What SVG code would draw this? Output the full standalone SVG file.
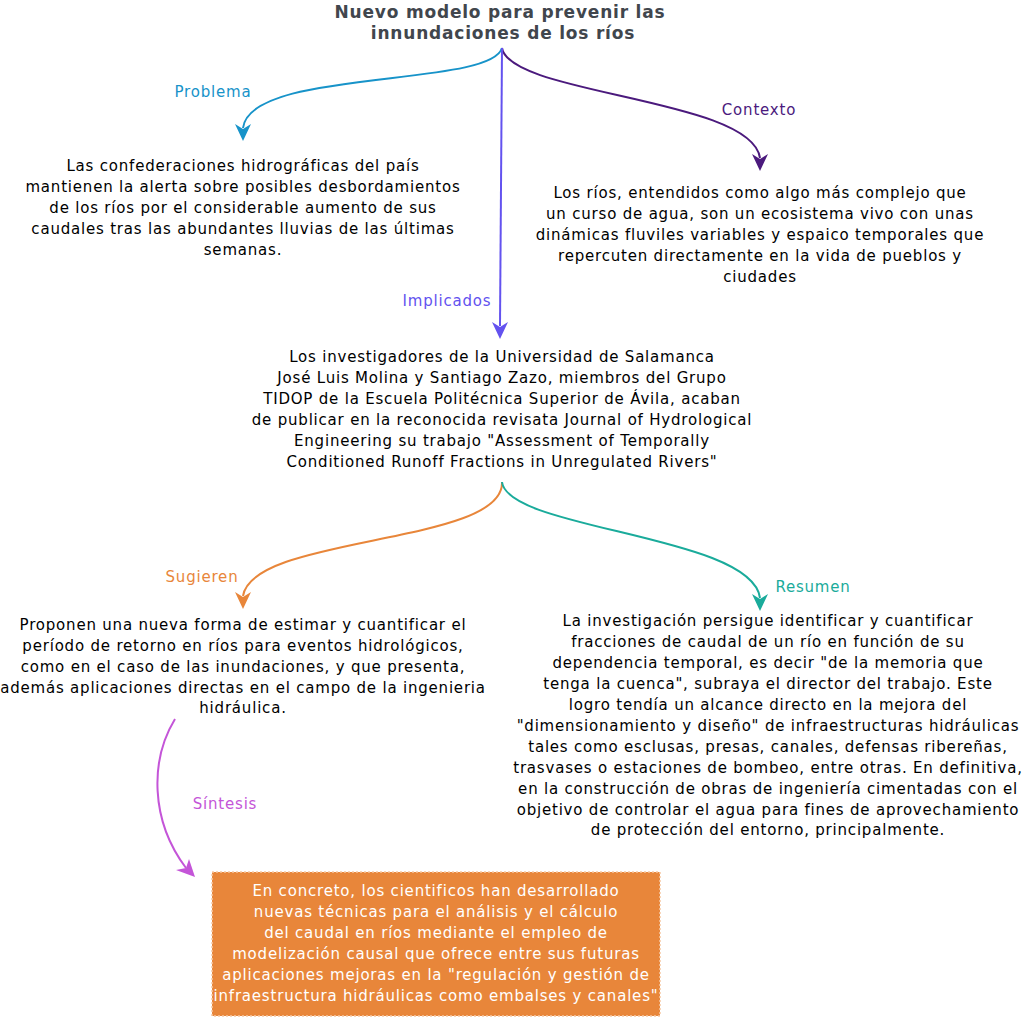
<svg xmlns="http://www.w3.org/2000/svg" width="1024" height="1020" viewBox="0 0 1024 1020">
<style>
text{font-family:"DejaVu Sans","Liberation Sans",sans-serif;font-size:15px;text-anchor:middle;fill:#000;letter-spacing:0.8px}
.title{font-weight:bold;font-size:17px;fill:#41464d}
.lbl{font-size:15px}
.c{fill:none;stroke-width:2}
.box text{fill:#fff}
</style>
<rect width="1024" height="1020" fill="#fff"/>
<g id="connectors">
<path class="c" stroke="#1793c9" d="M502,48 C490,88 250,68 243,128"/>
<path d="M235,124 L243,129 L251,124 L243,141 Z" fill="#1793c9"/>
<path class="c" stroke="#4b1a7d" d="M502,48 C510,95 752,98 760,158"/>
<path d="M752,154 L760,159 L768,154 L760,171 Z" fill="#4b1a7d"/>
<path class="c" stroke="#6352ef" d="M502,48 L500,326"/>
<path d="M492,322 L500,327 L508,322 L500,339 Z" fill="#6352ef"/>
<path class="c" stroke="#e8863a" d="M502,482 C505,545 252,535 243,596"/>
<path d="M235,592 L243,597 L251,592 L243,609 Z" fill="#e8863a"/>
<path class="c" stroke="#1aab9b" d="M502,482 C508,530 752,535 760,598"/>
<path d="M752,594 L760,599 L768,594 L760,611 Z" fill="#1aab9b"/>
<path class="c" stroke="#c455d8" d="M175,719 C150,760 150,820 186,868"/>
<path d="M176,870 L186,868 L189,859 L195,877 Z" fill="#c455d8"/>
</g>
<g id="title"><text class="title" x="500" y="18">Nuevo modelo para prevenir las</text><text class="title" x="503" y="39">innundaciones de los ríos</text></g>
<g id="lbl-problema"><text class="lbl" x="213" y="97" style="fill:#1793c9">Problema</text></g>
<g id="lbl-contexto"><text class="lbl" x="759" y="115" style="fill:#4b1a7d">Contexto</text></g>
<g id="lbl-implicados"><text class="lbl" x="447" y="306" style="fill:#6352ef">Implicados</text></g>
<g id="lbl-sugieren"><text class="lbl" x="202" y="582" style="fill:#e8863a">Sugieren</text></g>
<g id="lbl-resumen"><text class="lbl" x="813" y="592" style="fill:#1aab9b">Resumen</text></g>
<g id="lbl-sintesis"><text class="lbl" x="225" y="809" style="fill:#c455d8">Síntesis</text></g>
<g id="problema">
<text x="243" y="171">Las confederaciones hidrográficas del país</text>
<text x="243" y="192">mantienen la alerta sobre posibles desbordamientos</text>
<text x="243" y="213">de los ríos por el considerable aumento de sus</text>
<text x="243" y="234">caudales tras las abundantes lluvias de las últimas</text>
<text x="243" y="255">semanas.</text>
</g>
<g id="contexto">
<text x="760" y="198">Los ríos, entendidos como algo más complejo que</text>
<text x="760" y="219">un curso de agua, son un ecosistema vivo con unas</text>
<text x="760" y="240">dinámicas fluviles variables y espaico temporales que</text>
<text x="760" y="261">repercuten directamente en la vida de pueblos y</text>
<text x="760" y="282">ciudades</text>
</g>
<g id="implicados">
<text x="502" y="362">Los investigadores de la Universidad de Salamanca</text>
<text x="502" y="383">José Luis Molina y Santiago Zazo, miembros del Grupo</text>
<text x="502" y="404">TIDOP de la Escuela Politécnica Superior de Ávila, acaban</text>
<text x="502" y="425">de publicar en la reconocida revisata Journal of Hydrological</text>
<text x="502" y="446">Engineering su trabajo "Assessment of Temporally</text>
<text x="502" y="467">Conditioned Runoff Fractions in Unregulated Rivers"</text>
</g>
<g id="sugieren">
<text x="243" y="630">Proponen una nueva forma de estimar y cuantificar el</text>
<text x="243" y="651">período de retorno en ríos para eventos hidrológicos,</text>
<text x="243" y="672">como en el caso de las inundaciones, y que presenta,</text>
<text x="243" y="693">además aplicaciones directas en el campo de la ingenieria</text>
<text x="243" y="713">hidráulica.</text>
</g>
<g id="resumen">
<text x="768" y="626">La investigación persigue identificar y cuantificar</text>
<text x="768" y="647">fracciones de caudal de un río en función de su</text>
<text x="768" y="668">dependencia temporal, es decir "de la memoria que</text>
<text x="768" y="689">tenga la cuenca", subraya el director del trabajo. Este</text>
<text x="768" y="710">logro tendía un alcance directo en la mejora del</text>
<text x="768" y="731">"dimensionamiento y diseño" de infraestructuras hidráulicas</text>
<text x="768" y="752">tales como esclusas, presas, canales, defensas ribereñas,</text>
<text x="768" y="773">trasvases o estaciones de bombeo, entre otras. En definitiva,</text>
<text x="768" y="794">en la construcción de obras de ingeniería cimentadas con el</text>
<text x="768" y="815">objetivo de controlar el agua para fines de aprovechamiento</text>
<text x="768" y="835">de protección del entorno, principalmente.</text>
</g>
<g id="sintesis" class="box">
<rect x="212" y="872" width="448" height="144" fill="#e8863a" stroke="#f6c9a4" stroke-width="1.5" stroke-dasharray="2,2"/>
<text x="436" y="896">En concreto, los cientificos han desarrollado</text>
<text x="436" y="917">nuevas técnicas para el análisis y el cálculo</text>
<text x="436" y="938">del caudal en ríos mediante el empleo de</text>
<text x="436" y="959">modelización causal que ofrece entre sus futuras</text>
<text x="436" y="980">aplicaciones mejoras en la "regulación y gestión de</text>
<text x="436" y="1001">infraestructura hidráulicas como embalses y canales"</text>
</g>
</svg>
